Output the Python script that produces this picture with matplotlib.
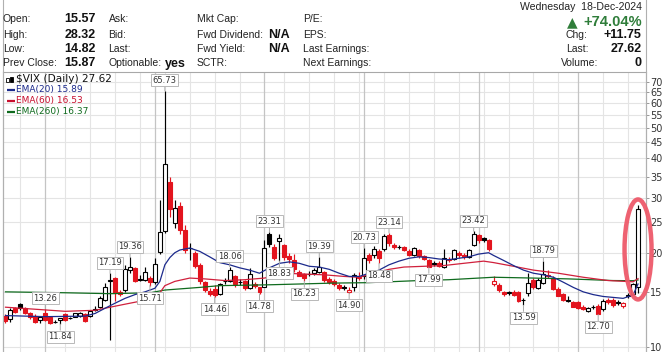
import numpy as np
import pandas as pd
import matplotlib
matplotlib.use('Agg')
import matplotlib.pyplot as plt
from matplotlib.patches import Ellipse, Rectangle
from matplotlib.lines import Line2D
from matplotlib.ticker import FixedLocator, FixedFormatter, NullLocator

# $VIX daily candles, 18-Jun-2024 .. 18-Dec-2024
opens = [12.6, 12.3, 13.3, 13.7, 13.3, 12.8, 12.6, 12.2, 12.8, 12.5,
         12.0, 12.2, 12.75, 12.38, 12.5, 12.55, 12.75, 12.6, 13.15, 13.4,
         14.1, 16.3, 16.6, 15.0, 15.2, 17.6, 17.9, 16.35, 16.4, 16.6,
         16.1, 20.1, 23.4, 33.7, 24.8, 28.2, 23.6, 20.65, 20.0, 18.3,
         16.1, 15.1, 15.3, 14.8, 16.2, 16.2, 16.8, 16.1, 16.2, 15.4,
         15.9, 15.5, 15.6, 23.0, 20.9, 21.8, 21.2, 19.5, 19.0, 17.4,
         17.1, 17.1, 17.2, 17.4, 17.3, 16.5, 16.3, 15.8, 15.6, 14.95,
         15.6, 16.6, 16.8, 19.7, 19.7, 20.3, 20.5, 22.7, 21.1, 20.9,
         20.8, 20.3, 19.7, 20.4, 19.5, 19.0, 18.5, 18.6, 18.0, 19.0,
         19.1, 20.0, 19.6, 19.4, 21.2, 22.7, 22.3, 21.9, 15.9, 15.8,
         15.0, 14.9, 15.0, 15.0, 14.1, 14.9, 16.4, 15.4, 16.0, 17.0,
         16.6, 15.3, 14.8, 14.05, 13.9, 13.9, 13.45, 13.05, 13.38, 13.55,
         13.2, 14.15, 14.1, 13.8, 13.5, 14.5, 14.8, 15.57]
highs = [12.7, 13.3, 13.4, 13.8, 13.4, 12.9, 12.7, 12.6, 13.26, 12.6,
         12.2, 12.4, 12.8, 12.5, 12.85, 12.9, 12.8, 13.1, 13.5, 14.6,
         16.0, 17.19, 16.7, 15.2, 18.3, 19.36, 18.0, 17.0, 18.0, 16.8,
         19.2, 29.5, 65.73, 35.0, 29.5, 29.1, 24.5, 21.5, 20.2, 18.5,
         16.3, 15.4, 15.8, 16.0, 16.6, 18.06, 17.0, 16.5, 16.4, 17.9,
         16.1, 15.6, 22.0, 23.31, 21.3, 23.0, 21.4, 20.0, 19.8, 17.6,
         17.2, 17.5, 17.9, 19.39, 17.5, 16.7, 16.5, 16.0, 15.8, 15.5,
         17.2, 17.3, 20.73, 20.0, 21.0, 20.5, 22.9, 23.14, 21.5, 21.2,
         21.0, 20.5, 20.9, 20.6, 19.7, 19.1, 18.8, 18.8, 20.5, 19.4,
         20.6, 20.2, 19.9, 20.6, 23.42, 22.9, 22.5, 22.1, 16.8, 16.0,
         15.1, 15.1, 15.2, 15.1, 14.3, 17.2, 16.6, 16.6, 18.79, 17.6,
         16.8, 15.5, 14.9, 14.5, 14.0, 14.0, 13.6, 13.4, 13.6, 13.7,
         14.2, 14.3, 14.3, 14.1, 13.9, 14.9, 16.0, 28.32]
lows = [11.9, 12.0, 12.8, 13.1, 12.7, 12.3, 11.95, 11.95, 12.1, 11.85,
        11.9, 11.84, 12.1, 12.3, 12.45, 12.5, 12.0, 12.5, 13.0, 13.3,
        14.0, 10.5, 14.0, 14.5, 15.0, 17.2, 16.1, 16.2, 16.2, 15.71,
        15.9, 19.8, 23.2, 26.0, 24.0, 23.0, 20.0, 19.0, 17.9, 15.9,
        15.0, 14.6, 14.46, 14.7, 15.9, 16.1, 15.6, 15.8, 15.2, 15.3,
        15.4, 14.78, 15.5, 20.9, 18.9, 18.83, 18.9, 18.5, 17.4, 16.8,
        16.23, 16.8, 17.0, 17.2, 16.1, 15.9, 15.7, 15.2, 15.2, 14.9,
        15.1, 16.4, 16.5, 18.6, 19.3, 18.48, 20.2, 21.0, 20.5, 20.6,
        20.2, 19.5, 19.5, 19.3, 18.9, 17.99, 18.1, 18.0, 17.9, 18.7,
        18.9, 19.3, 19.1, 19.2, 21.0, 21.5, 21.6, 20.2, 15.7, 15.0,
        14.6, 14.7, 14.5, 13.9, 13.59, 14.6, 15.3, 15.3, 15.9, 16.6,
        15.2, 14.5, 14.0, 13.9, 13.4, 13.2, 13.1, 12.9, 13.2, 12.7,
        13.0, 13.7, 13.4, 13.6, 13.3, 14.3, 14.7, 14.82]
closes = [12.1, 13.1, 12.95, 13.3, 12.8, 12.45, 12.05, 12.45, 12.2, 11.95,
          12.05, 12.35, 12.2, 12.42, 12.8, 12.85, 12.15, 13.0, 13.2, 14.3,
          15.6, 16.4, 14.9, 14.75, 17.8, 18.0, 16.2, 16.45, 17.4, 16.1,
          18.4, 23.3, 38.3, 27.6, 27.7, 23.6, 20.4, 20.71, 18.12, 16.19,
          15.23, 14.8, 14.65, 15.88, 16.27, 17.55, 15.86, 16.15, 15.43, 17.11,
          15.65, 15.0, 20.72, 21.32, 19.3, 22.35, 19.45, 19.08, 17.69, 16.9,
          16.56, 17.14, 17.61, 18.0, 16.33, 16.15, 15.89, 15.39, 15.41, 15.15,
          16.96, 16.73, 19.26, 18.9, 20.49, 19.21, 22.64, 21.42, 20.86, 20.93,
          20.46, 19.7, 20.64, 19.58, 19.11, 18.03, 18.37, 18.2, 19.24, 19.08,
          20.33, 19.6, 19.34, 20.35, 22.9, 21.88, 21.98, 20.49, 16.2, 15.2,
          14.75, 14.97, 14.71, 14.02, 14.12, 16.0, 15.58, 16.35, 17.16, 16.87,
          15.3, 14.6, 14.1, 14.12, 13.45, 13.3, 13.25, 13.3, 13.45, 12.77,
          14.0, 13.9, 13.58, 13.92, 13.81, 14.69, 15.87, 27.62]
prev_close0 = 12.7

# moving averages at sample candles
ema20_idx = [0, 8, 16, 18, 20, 22, 24, 26, 28, 30, 31, 32, 33, 34, 35, 37, 39, 41, 43, 45,
             47, 49, 51, 53, 55, 57, 59, 61, 63, 65, 67, 69, 71, 73, 75, 77, 79, 81, 83, 85,
             87, 89, 91, 93, 95, 97, 98, 100, 102, 104, 106, 108, 110, 112, 114, 116, 118, 120,
             122, 124, 126, 127]
ema20_val = [12.6, 12.5, 12.55, 12.8, 13.3, 13.8, 14.3, 14.7, 15.0, 15.4, 16.2, 18.3, 19.3, 20.0,
             20.4, 20.7, 20.2, 19.4, 18.6, 18.3, 17.9, 17.6, 17.2, 17.9, 18.5, 18.7, 18.5, 18.1,
             18.0, 17.7, 17.2, 16.8, 16.8, 17.2, 17.6, 18.3, 18.8, 19.2, 19.4, 19.3, 19.1, 19.0,
             19.2, 19.4, 19.8, 20.0, 19.6, 18.9, 18.2, 17.6, 17.2, 17.0, 16.7, 16.1, 15.5, 15.0,
             14.7, 14.5, 14.4, 14.3, 14.65, 15.89]
ema60_idx = [0, 6, 12, 18, 21, 24, 27, 29, 31, 32, 34, 37, 40, 44, 48, 52, 56, 60, 64, 68,
             71, 74, 77, 80, 84, 88, 92, 96, 98, 102, 106, 111, 116, 121, 126, 127]
ema60_val = [13.4, 13.2, 13.0, 13.1, 13.4, 13.7, 14.0, 14.3, 14.9, 15.7, 16.2, 16.6, 16.5, 16.3,
             16.4, 16.6, 17.2, 17.1, 17.0, 16.8, 16.7, 17.2, 17.7, 18.0, 18.1, 18.2, 18.5, 18.8,
             18.6, 18.1, 17.6, 17.2, 16.7, 16.3, 16.15, 16.53]
ema260_idx = [0, 12, 21, 29, 32, 39, 43, 53, 66, 73, 83, 89, 98, 106, 113, 122, 126, 127]
ema260_val = [15.0, 14.9, 14.8, 14.9, 15.2, 15.5, 15.7, 15.8, 16.0, 16.05, 16.3, 16.4, 16.7,
              16.6, 16.5, 16.3, 16.28, 16.37]

# candles that get a value callout
high_marks = [8, 21, 25, 32, 45, 53, 63, 72, 77, 94, 108]
low_marks = [11, 29, 42, 51, 55, 60, 69, 75, 85, 104, 119]

holidays = pd.to_datetime(['2024-06-19', '2024-07-04', '2024-09-02', '2024-11-28'])
dates = pd.bdate_range('2024-06-18', '2024-12-18')
dates = dates[~dates.isin(holidays)]

y_ticks = [10, 15, 20, 25, 30, 35, 40, 45, 50, 55, 60, 65, 70]

W, H = 667, 352
RED = '#e3141e'
GRID = '#e4e4e4'

fig = plt.figure(figsize=(W / 100, H / 100), dpi=100)
fig.patch.set_facecolor('white')


def ftext(px, py, s, **kw):
    kw.setdefault('family', 'Liberation Sans')
    kw.setdefault('va', 'baseline')
    fig.text(px / W, 1 - py / H, s, **kw)


# ---- header block
rows = [22.5, 37.5, 52, 66.5]
lab = dict(fontsize=7.5, color='#222222')
val = dict(fontsize=9, color='#111111', weight='bold', ha='right')
for txt, v, r in [('Open:', '15.57', 0), ('High:', '28.32', 1), ('Low:', '14.82', 2),
                  ('Prev Close:', '15.87', 3)]:
    ftext(3, rows[r], txt, **lab)
    ftext(96, rows[r], v, **val)
for txt, r in [('Ask:', 0), ('Bid:', 1), ('Last:', 2), ('Optionable:', 3)]:
    ftext(108.5, rows[r], txt, **lab)
ftext(185.5, rows[3], 'yes', **val)
for txt, r in [('Mkt Cap:', 0), ('Fwd Dividend:', 1), ('Fwd Yield:', 2), ('SCTR:', 3)]:
    ftext(197, rows[r], txt, **lab)
ftext(290, rows[1], 'N/A', **val)
ftext(290, rows[2], 'N/A', **val)
for txt, r in [('P/E:', 0), ('EPS:', 1), ('Last Earnings:', 2), ('Next Earnings:', 3)]:
    ftext(303, rows[r], txt, **lab)

ftext(641.5, 9.5, 'Wednesday  18-Dec-2024', fontsize=7.6, color='#222222', ha='right')
ftext(641.5, 26.5, '+74.04%', fontsize=10.5, color='#2f7d3a', weight='bold', ha='right')
ftext(567, 26.5, '\u25b2', fontsize=10, color='#2f7d3a', family='DejaVu Sans')
ftext(566, rows[1], 'Chg:', **lab)
ftext(566, rows[2], 'Last:', **lab)
ftext(561, rows[3], 'Volume:', **lab)
ftext(641.5, rows[1], '+11.75', **val)
ftext(641.5, rows[2], '27.62', **val)
ftext(641.5, rows[3], '0', **val)

# frame lines around the header
for px in (2.5, 646):
    fig.add_artist(Line2D([px / W, px / W], [1, 0], color='#b0b0b0', lw=0.8))

# ---- price panel
ax = fig.add_axes([3 / W, 0, (646 - 3) / W, (H - 72) / H])
ax.set_yscale('log')
ax.set_xlim(-0.5, 128.6)
ax.set_ylim(9.64, 75.5)

# grid: horizontal at the scale values, vertical at week / month starts
for v in y_ticks:
    ax.axhline(v, color=GRID, lw=0.8, zorder=0)
week = dates.to_period('W')
month = dates.to_period('M')
for i in range(1, len(dates)):
    if month[i] != month[i - 1]:
        ax.axvline(i, color='#c4c4c4', lw=0.9, zorder=0)
    elif week[i] != week[i - 1]:
        ax.axvline(i, color=GRID, lw=0.8, zorder=0)

x = np.arange(len(closes))
o = np.array(opens)
c = np.array(closes)
hi = np.array(highs)
lo = np.array(lows)
pc = np.concatenate([[prev_close0], c[:-1]])
edge = np.where(c < pc, RED, 'black')
face = np.where(c < o, edge, 'white')

ax.vlines(x, lo, hi, colors=edge, lw=0.85, zorder=2)
bot = np.minimum(o, c)
top = np.maximum(o, c)
ax.bar(x, top - bot, bottom=bot, width=0.8, color=face, edgecolor=edge,
       linewidth=0.8, zorder=3)

ax.plot(ema260_idx, ema260_val, color='#0f6b1e', lw=0.9, zorder=4)
ax.plot(ema60_idx, ema60_val, color='#d0203c', lw=0.9, zorder=4)
ax.plot(ema20_idx, ema20_val, color='#1c2a8c', lw=0.9, zorder=4)

# value callouts
box = dict(boxstyle='square,pad=0.18', fc='white', ec='#b8b8b8', lw=0.7)
arrow = dict(arrowstyle='-', color='#a8a8a8', lw=0.7, shrinkA=0, shrinkB=0)
for i in high_marks:
    ax.annotate(f'{highs[i]:.2f}', xy=(i, highs[i]), xytext=(0, 10.5),
                textcoords='offset pixels', ha='center', va='center', fontsize=6,
                color='#333333', bbox=box, arrowprops=arrow, zorder=6)
for i in low_marks:
    ax.annotate(f'{lows[i]:.2f}', xy=(i, lows[i]), xytext=(0, -12.5),
                textcoords='offset pixels', ha='center', va='center', fontsize=6,
                color='#333333', bbox=box, arrowprops=arrow, zorder=6)

# axis styling
for s in ('left', 'right', 'top'):
    ax.spines[s].set_color('#a8a8a8')
    ax.spines[s].set_linewidth(0.8)
ax.spines['bottom'].set_visible(False)
ax.set_xticks([])
ax.yaxis.tick_right()
ax.yaxis.set_major_locator(FixedLocator(y_ticks))
ax.yaxis.set_major_formatter(FixedFormatter([str(v) for v in y_ticks]))
ax.yaxis.set_minor_locator(NullLocator())
ax.tick_params(axis='y', length=2, width=0.6, color='#888888', labelsize=7,
               labelcolor='#333333', pad=1)


# legend block in the corner
def apx(px, py):
    return ((px - 3) / (646 - 3), (H - py) / (H - 72))


ax.add_patch(Rectangle(apx(6.5, 81.5), 2.2 / 643, 4 / 280, transform=ax.transAxes,
                       fc='white', ec='black', lw=0.6, zorder=7))
ax.add_patch(Rectangle(apx(10.5, 82), 2.2 / 643, 5 / 280, transform=ax.transAxes,
                       fc='black', ec='black', lw=0.6, zorder=7))
ax.text(*apx(16, 78.5), '$VIX (Daily) 27.62', transform=ax.transAxes, fontsize=7.6,
        color='#111111', va='center', zorder=7)
for py, label, col in [(89.5, 'EMA(20) 15.89', '#1c2a8c'),
                       (100.5, 'EMA(60) 16.53', '#c8102e'),
                       (111.5, 'EMA(260) 16.37', '#0f6b1e')]:
    x0, y0 = apx(7, py)
    x1, _ = apx(15, py)
    ax.plot([x0, x1], [y0, y0], transform=ax.transAxes, color=col, lw=1.6,
            solid_capstyle='butt', zorder=7)
    ax.text(*apx(16, py), label, transform=ax.transAxes, fontsize=6.5, color=col,
            va='center', zorder=7)

# highlight ring round the last candle
fig.canvas.draw()
last = len(closes) - 1
cx, cy = ax.transData.transform((last, np.sqrt(highs[last] * lows[last])))
fx, fy = fig.transFigure.inverted().transform((cx, cy))
fig.add_artist(Ellipse((fx, fy), 27 / W, 100 / H, transform=fig.transFigure,
                       fill=False, ec='#ee5a6a', lw=3.2, alpha=0.95, zorder=10))

fig.savefig('out.png', dpi=100)
